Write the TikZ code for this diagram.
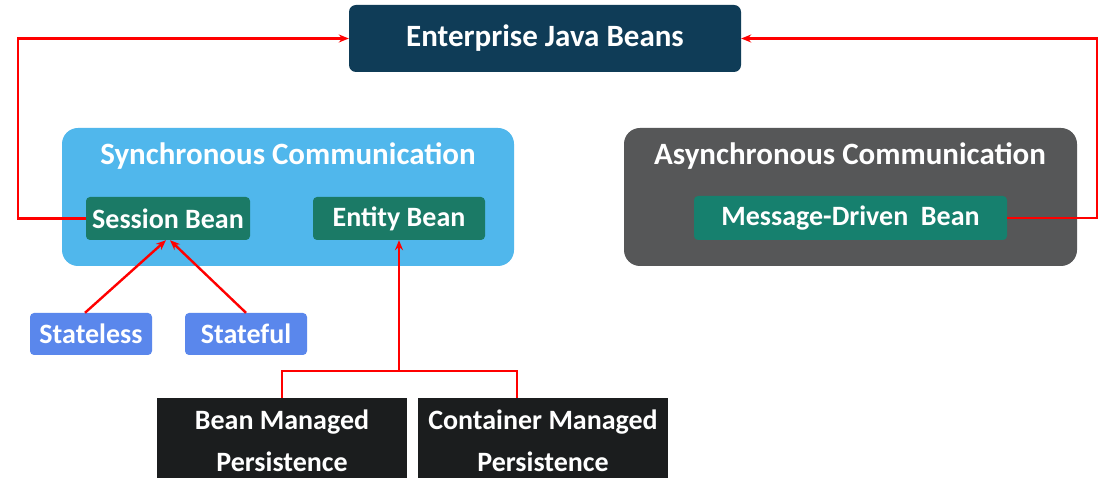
\documentclass[tikz,border=0pt]{standalone}
\usepackage{fontspec}
\setmainfont{Carlito}
\usetikzlibrary{arrows.meta}
\definecolor{ejbc}{RGB}{15,60,87}
\definecolor{syncc}{RGB}{80,183,236}
\definecolor{asyncc}{RGB}{86,87,88}
\definecolor{beanc}{RGB}{27,122,102}
\definecolor{mdbc}{RGB}{22,128,110}
\definecolor{typec}{RGB}{90,135,236}
\definecolor{persc}{RGB}{27,29,30}
\begin{document}
\begin{tikzpicture}[x=1pt,y=-1pt,
  box/.style={rounded corners=4pt, text=white, font=\bfseries, inner sep=0pt, align=center},
  group/.style={rounded corners=16pt, inner sep=0pt},
  title/.style={text=white, font=\bfseries\fontsize{31}{36}\selectfont, inner sep=0pt},
  small/.style={font=\bfseries\fontsize{28}{32}\selectfont},
  link/.style={draw=red, line width=2.4pt},
  arr/.style={link, -{Stealth[length=10pt,width=8pt]}}]
\clip (0,0) rectangle (1101,478);
\fill[white] (0,0) rectangle (1101,478);
\node[box, fill=ejbc, minimum width=392pt, minimum height=67pt, rounded corners=7pt,
  font=\bfseries\fontsize{31}{36}\selectfont] (ejb) at (545,38.5) {Enterprise Java Beans};
\node[group, fill=syncc, minimum width=452pt, minimum height=138pt] (sync) at (288,197) {};
\node[title] (synct) at (288,156) {Synchronous Communication};
\node[box, small, fill=beanc, minimum width=164pt, minimum height=43pt] (session) at (168,218.5) {Session Bean};
\node[box, small, fill=beanc, minimum width=172pt, minimum height=43pt] (entity) at (399,218.5) {Entity Bean};
\node[group, fill=asyncc, minimum width=453pt, minimum height=138pt] (async) at (850.5,197) {};
\node[title] (asynct) at (850,156) {Asynchronous Communication};
\node[box, small, fill=mdbc, minimum width=313pt, minimum height=44pt] (mdb) at (850.5,218) {Message-Driven\ \ Bean};
\node[box, small, fill=typec, minimum width=122pt, minimum height=42pt] (stateless) at (91,334) {Stateless};
\node[box, small, fill=typec, minimum width=122pt, minimum height=42pt] (stateful) at (246,334) {Stateful};
\node[box, rounded corners=0pt, fill=persc, minimum width=250pt, minimum height=86pt,
  font=\bfseries\fontsize{28}{42}\selectfont] (bmp) at (282,441) {Bean Managed\\Persistence};
\node[box, rounded corners=0pt, fill=persc, minimum width=250pt, minimum height=86pt,
  font=\bfseries\fontsize{28}{42}\selectfont] (cmp) at (543,441) {Container Managed\\Persistence};
\draw[arr] (session.west) -- ++(-68,0) |- (ejb.west);
\draw[arr] (mdb.east) -- ++(90,0) |- (ejb.east);
\draw[arr] ([xshift=-6pt]stateless.north) -- ([xshift=-2pt]session.south);
\draw[arr] (stateful.north) -- ([xshift=2pt]session.south);
\coordinate (fork) at (399,371);
\draw[link] (bmp.north) |- (fork) -| ([xshift=-26pt]cmp.north);
\draw[arr] (fork) -- (entity.south);
\end{tikzpicture}
\end{document}
